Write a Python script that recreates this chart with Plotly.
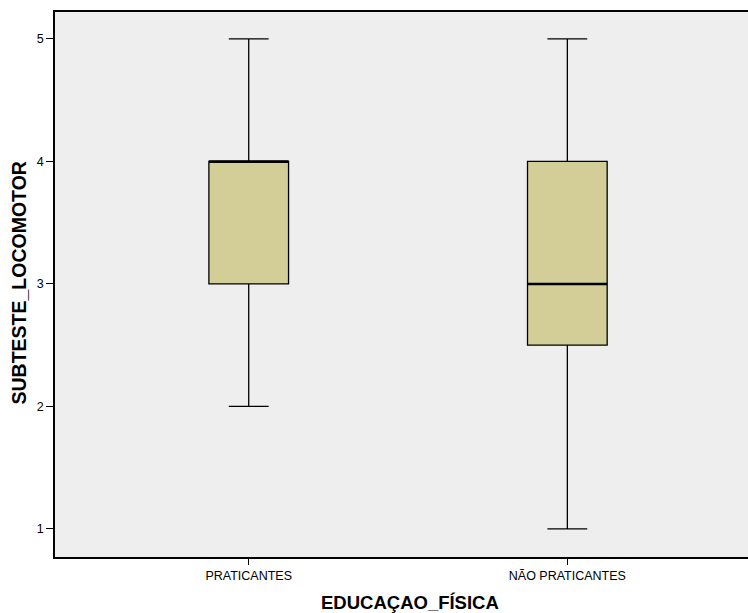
import plotly.graph_objects as go

categories = ["PRATICANTES", "NÃO PRATICANTES"]
lower_whisker = [2, 1]
q1_values = [3, 2.5]
median_values = [4, 3]
q3_values = [4, 4]
upper_whisker = [5, 5]
y_ticks = [1, 2, 3, 4, 5]
x_title = "EDUCAÇAO_FÍSICA"
y_title = "SUBTESTE_LOCOMOTOR"

positions = list(range(len(categories)))
box_w = 0.25

W, H = 748, 613
ML, MR, MT, MB = 55, 0, 12, 56
PW, PH = W - ML - MR, H - MT - MB

fig = go.Figure()
fig.add_trace(go.Box(
    x=positions,
    q1=q1_values, median=median_values, q3=q3_values,
    lowerfence=lower_whisker, upperfence=upper_whisker,
    width=box_w, whiskerwidth=0.5,
    fillcolor="rgb(211,206,151)",
    line=dict(color="black", width=1.3),
    boxpoints=False, showlegend=False, hoverinfo="skip",
))
# thicker median lines
for p, m in zip(positions, median_values):
    fig.add_trace(go.Scatter(
        x=[p - box_w / 2, p + box_w / 2], y=[m, m], mode="lines",
        line=dict(color="black", width=2.6), showlegend=False, hoverinfo="skip",
    ))

fig.update_layout(
    width=W, height=H,
    margin=dict(l=ML, r=MR, t=MT, b=MB),
    paper_bgcolor="white", plot_bgcolor="#EEEEEE",
    font=dict(family="Liberation Sans, Arial, sans-serif", color="black"),
)
fig.update_xaxes(
    range=[-0.608, 1.567], tickvals=positions, ticktext=categories,
    showgrid=False, zeroline=False, automargin=False,
    showline=True, linecolor="black", linewidth=1.5, mirror=True,
    ticks="outside", ticklen=6, tickcolor="black", tickwidth=1,
    tickfont=dict(size=12.5),
)
fig.update_yaxes(
    range=[0.771, 5.22], tickvals=y_ticks,
    showgrid=False, zeroline=False, automargin=False,
    showline=True, linecolor="black", linewidth=1.5,
    ticks="outside", ticklen=7, tickcolor="black", tickwidth=1,
    tickfont=dict(size=12.5),
)
fig.add_annotation(
    text="<b>" + x_title + "</b>", xref="paper", yref="paper",
    x=(410 - ML) / PW, y=(H - MB - 602) / PH, xanchor="center", yanchor="middle",
    showarrow=False, font=dict(size=18.5),
)
fig.add_annotation(
    text="<b>" + y_title + "</b>", xref="paper", yref="paper",
    x=(18.5 - ML) / PW, y=(H - MB - 283) / PH, xanchor="center", yanchor="middle",
    textangle=-90, showarrow=False, font=dict(size=19.5),
)
fig.write_html(
    "out.html",
    config={"displayModeBar": False},
    post_script="document.body.style.margin='0px';document.body.style.overflow='hidden';",
)
